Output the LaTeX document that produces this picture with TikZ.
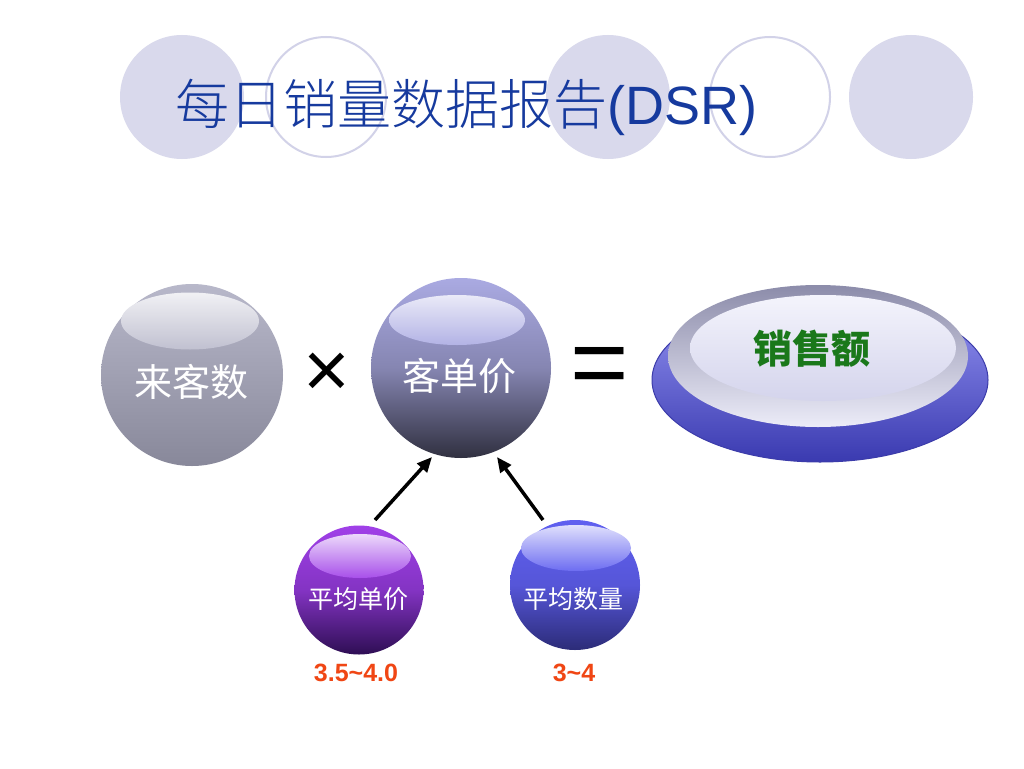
\documentclass[tikz,border=0pt]{standalone}
\usepackage{fontspec}
\setmainfont{Liberation Sans}
\newfontfamily\cjk{Noto Sans CJK SC}
\newfontfamily\cjkl{Noto Sans CJK SC Light}
\usetikzlibrary{shapes.geometric,arrows.meta}
\definecolor{titleblue}{RGB}{22,58,158}
\definecolor{decofill}{RGB}{217,217,236}
\definecolor{decoline}{RGB}{210,210,232}
\definecolor{lkTop}{RGB}{184,184,202}
\definecolor{lkBot}{RGB}{136,136,154}
\definecolor{kdTop}{RGB}{170,170,226}
\definecolor{kdBot}{RGB}{48,48,64}
\definecolor{puTop}{RGB}{160,64,232}
\definecolor{puBot}{RGB}{46,14,84}
\definecolor{blTop}{RGB}{96,96,240}
\definecolor{blBot}{RGB}{44,44,120}
\definecolor{numred}{RGB}{240,70,20}
\definecolor{salegreen}{RGB}{26,120,26}
\tikzset{
  sphere/.style={circle, inner sep=0pt},
  shine/.style={ellipse, inner sep=0pt},
  sphtext/.style={inner sep=0pt, text=white, font=\cjk\fontsize{38}{38}\selectfont},
  smalltext/.style={inner sep=0pt, text=white, font=\cjk\fontsize{25}{25}\selectfont},
  numtext/.style={inner sep=0pt, text=numred, font=\bfseries\fontsize{25}{25}\selectfont},
  arr/.style={line width=3.5pt, -{Triangle[length=15pt,width=13pt]}},
  deco/.style={fill=decofill},
  decoring/.style={draw=decoline, line width=2pt},
}
\begin{document}
\begin{tikzpicture}[x=1pt,y=-1pt]
\useasboundingbox (0,0) rectangle (1024,768);
\fill[white] (0,0) rectangle (1024,768);
% decorative circles
\fill[deco] (182,97) circle (62pt);
\draw[decoring] (326,97) circle (60pt);
\fill[deco] (608,97) circle (62pt);
\draw[decoring] (770,97) circle (60pt);
\fill[deco] (911,97) circle (62pt);
% title
\node[anchor=base west, inner sep=0pt, text=titleblue, font=\fontsize{54}{54}\selectfont] (title) at (175,124) {{\cjkl 每日销量数据报告}(DSR)};
% sphere 来客数
\node[sphere, minimum size=182pt, top color=lkTop, bottom color=lkBot] (lk) at (192,375) {};
\node[shine, minimum width=138pt, minimum height=57pt, top color=white!80!lkTop, bottom color=white!12!lkTop] (lkshine) at (190,321) {};
\node[sphtext] (lkt) at (191,382) {来客数};
% ×
\node[inner sep=0pt, font=\fontsize{80}{80}\selectfont] (times) at (327,375) {×};
% sphere 客单价
\node[sphere, minimum size=180pt, top color=kdTop, bottom color=kdBot, middle color=kdTop!70!kdBot] (kd) at (461,368) {};
\node[shine, minimum width=136pt, minimum height=50pt, top color=white!75!kdTop, bottom color=white!10!kdTop] (kdshine) at (457,320) {};
\node[sphtext] (kdt) at (459,376) {客单价};
% =
\node[inner sep=0pt, font=\fontsize{100}{100}\selectfont] (equals) at (600,372) {=};
% disc 销售额
\node[ellipse, minimum width=336pt, minimum height=164pt, inner sep=0pt, top color={rgb,255:red,150;green,150;blue,244}, bottom color={rgb,255:red,58;green,58;blue,176}, draw={rgb,255:red,60;green,60;blue,170}, line width=1pt] (disc) at (820,380) {};
\node[ellipse, minimum width=300pt, minimum height=142pt, inner sep=0pt, top color={rgb,255:red,140;green,140;blue,170}, bottom color={rgb,255:red,236;green,236;blue,248}] (bevel) at (818,356) {};
\node[ellipse, minimum width=266pt, minimum height=106pt, inner sep=0pt, top color={rgb,255:red,244;green,244;blue,252}, bottom color={rgb,255:red,212;green,212;blue,236}] (face) at (823,348) {};
\node[inner sep=0pt, text=salegreen, font=\cjk\bfseries\fontsize{39}{39}\selectfont] (sale) at (812,349) {销售额};
% small spheres
\node[sphere, minimum size=129pt, top color=puTop, bottom color=puBot, middle color=puTop!75!puBot] (pu) at (359,590) {};
\node[shine, minimum width=102pt, minimum height=44pt, top color=white!80!puTop, bottom color=white!8!puTop] (pushine) at (360,556) {};
\node[smalltext] (put) at (358,599) {平均单价};
\node[sphere, minimum size=130pt, top color=blTop, bottom color=blBot, middle color=blTop!80!blBot] (bl) at (575,585) {};
\node[shine, minimum width=110pt, minimum height=46pt, top color=white!80!blTop, bottom color=white!8!blTop] (blshine) at (576,548) {};
\node[smalltext] (blt) at (573,599) {平均数量};
% numbers
\node[numtext] (n1) at (356,673) {3.5\char"7E 4.0};
\node[numtext] (n2) at (574,673) {3\char"7E 4};
% arrows
\coordinate (a1s) at (375,520);
\coordinate (a1e) at (432,457);
\coordinate (a2s) at (543,520);
\coordinate (a2e) at (497,457);
\draw[arr] (a1s) -- (a1e);
\draw[arr] (a2s) -- (a2e);
\end{tikzpicture}
\end{document}
